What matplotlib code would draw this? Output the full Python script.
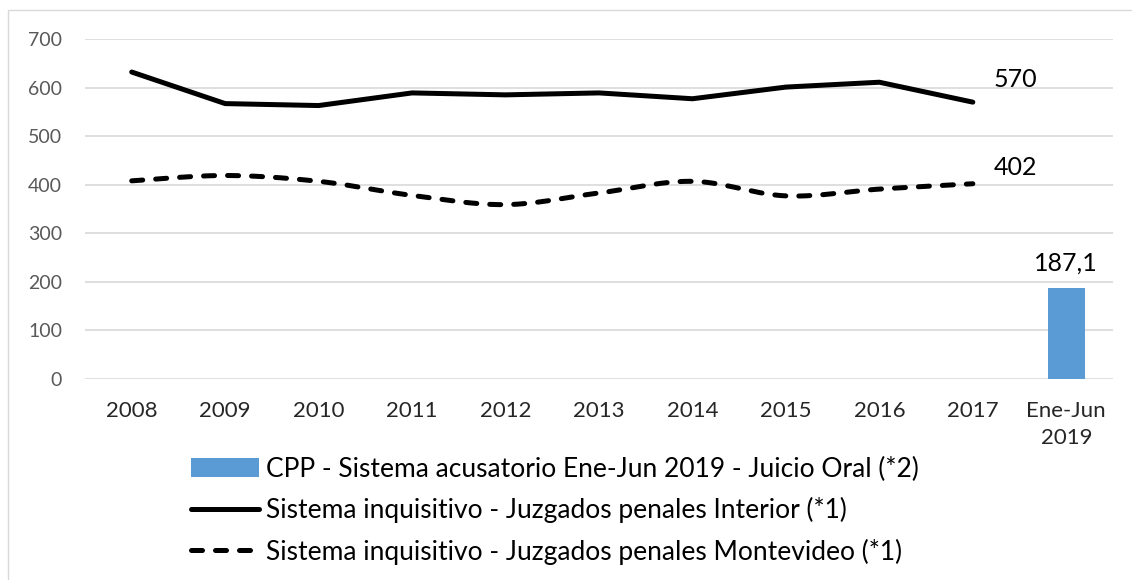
import matplotlib.pyplot as plt
import numpy as np
from matplotlib.lines import Line2D
from matplotlib.patches import Patch, Rectangle

plt.rcParams['font.family'] = ['Lato', 'DejaVu Sans']

categories = ["2008", "2009", "2010", "2011", "2012", "2013", "2014", "2015",
              "2016", "2017", "Ene-Jun\n2019"]
interior = [632, 567, 563, 589, 585, 589, 577, 601, 611, 570]
montevideo = [408, 419, 407, 378, 359, 383, 407, 377, 391, 402]
cpp_value = 187.1

label_cpp = "CPP - Sistema acusatorio Ene-Jun 2019 - Juicio Oral (*2)"
label_int = "Sistema inquisitivo - Juzgados penales Interior (*1)"
label_mvd = "Sistema inquisitivo - Juzgados penales Montevideo (*1)"


def smooth(xs, ys, n=30):
    # bezier smoothing similar to Excel's "smoothed line"
    xs = np.asarray(xs, float)
    ys = np.asarray(ys, float)
    px = np.concatenate([[xs[0]], xs, [xs[-1]]])
    py = np.concatenate([[ys[0]], ys, [ys[-1]]])
    out_x, out_y = [], []
    t = np.linspace(0, 1, n)
    for i in range(1, len(px) - 2):
        p0 = np.array([px[i], py[i]])
        p3 = np.array([px[i + 1], py[i + 1]])
        c1 = p0 + (np.array([px[i + 1], py[i + 1]]) - np.array([px[i - 1], py[i - 1]])) / 6
        c2 = p3 - (np.array([px[i + 2], py[i + 2]]) - np.array([px[i], py[i]])) / 6
        pts = ((1 - t)[:, None] ** 3 * p0 + 3 * ((1 - t) ** 2 * t)[:, None] * c1
               + 3 * ((1 - t) * t ** 2)[:, None] * c2 + (t ** 3)[:, None] * p3)
        out_x.extend(pts[:, 0])
        out_y.extend(pts[:, 1])
    return out_x, out_y


fig = plt.figure(figsize=(11.32, 5.8), dpi=100)
ax = fig.add_axes([85 / 1132, 1 - 379 / 580, 1028 / 1132, 340 / 580])

x = np.arange(len(categories))
xl = x[:len(interior)]
lw = 3.6
dash = (2.2, 2.6)

ax.bar(x[-1], cpp_value, width=0.40, color="#5B9BD5", zorder=3)
ax.plot(xl, interior, color="black", lw=lw, solid_capstyle="round",
        solid_joinstyle="round", zorder=4)
sx, sy = smooth(xl, montevideo)
ax.plot(sx, sy, color="black", lw=lw, dashes=dash, dash_capstyle="round", zorder=4)

ax.annotate("570", (xl[-1], interior[-1]), xytext=(15, 16.5), textcoords="offset points",
            ha="left", va="center", fontsize=18, color="black")
ax.annotate("402", (xl[-1], montevideo[-1]), xytext=(15, 11.5), textcoords="offset points",
            ha="left", va="center", fontsize=18, color="black")
ax.annotate("187,1", (x[-1], cpp_value), xytext=(0, 18), textcoords="offset points",
            ha="center", va="center", fontsize=18, color="black")

ax.set_xlim(-0.5, len(categories) - 0.5)
ax.set_ylim(0, 700)
ax.set_yticks(range(0, 701, 100))
ax.set_xticks(x)
ax.set_xticklabels(categories)
for lab in ax.get_xticklabels():
    lab.set_linespacing(1.45)
ax.tick_params(axis="x", length=0, pad=16, labelsize=16, colors="#262626")
ax.tick_params(axis="y", length=0, pad=16.5, labelsize=14, colors="#595959")
ax.grid(axis="y", color="#D9D9D9", lw=1.2, zorder=0)
ax.set_axisbelow(True)
for s in ax.spines.values():
    s.set_visible(False)

handles = [
    Patch(facecolor="#5B9BD5", edgecolor="none"),
    Line2D([], [], color="black", lw=lw, solid_capstyle="round"),
    Line2D([], [], color="black", lw=lw, dashes=dash, dash_capstyle="round"),
]
fig.legend(handles, [label_cpp, label_int, label_mvd], loc="center left",
           bbox_to_anchor=(191 / 1132, 1 - 510.7 / 580), frameon=False, fontsize=19,
           handlelength=2.58, handletextpad=0.27, labelspacing=0.58, borderpad=0,
           borderaxespad=0)

fig.add_artist(Rectangle((8 / 1132, -0.05), 1.2, 1 - 10 / 580 + 0.05,
                         transform=fig.transFigure, fill=False, edgecolor="#D9D9D9", lw=1))

fig.savefig("out.png", dpi=100)
